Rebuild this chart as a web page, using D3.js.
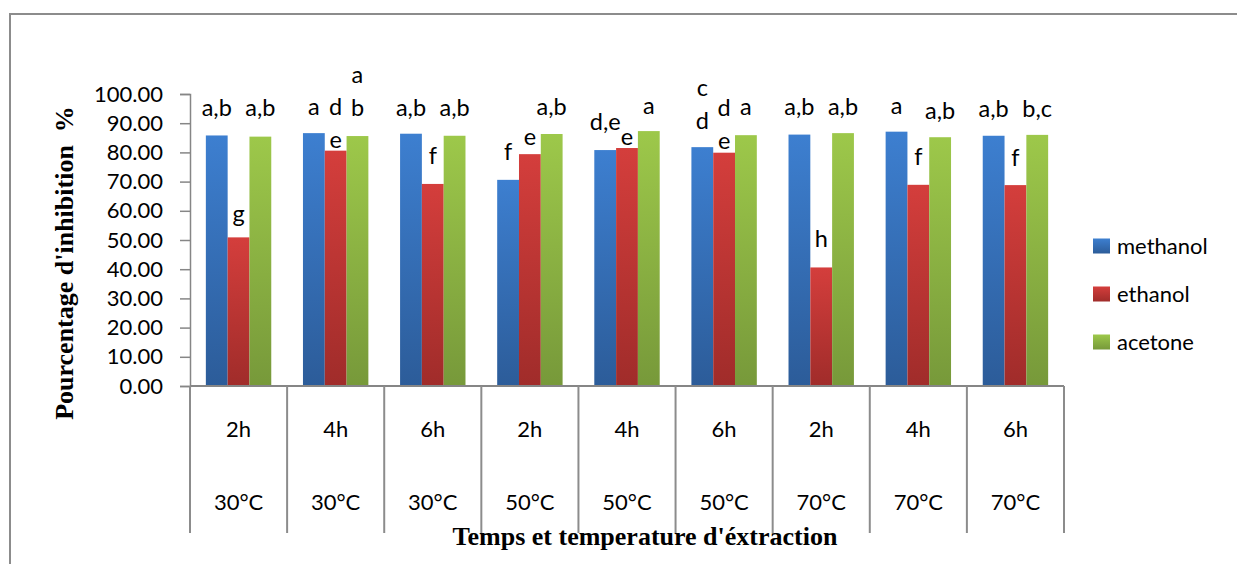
<!DOCTYPE html>
<html>
<head>
<meta charset="utf-8">
<script src="https://cdn.jsdelivr.net/npm/d3@7"></script>
<style>
  body { margin: 0; background: #fff; }
  svg { display: block; }
</style>
</head>
<body>
<div id="chart"></div>
<script>
const margin = { top: 94, right: 173, bottom: 178, left: 190 };
const width = 1237 - margin.left - margin.right;
const height = 564 - margin.top - margin.bottom;

// categories
const hours = ["2h", "4h", "6h", "2h", "4h", "6h", "2h", "4h", "6h"];
const temps = ["30°C", "30°C", "30°C", "50°C", "50°C", "50°C", "70°C", "70°C", "70°C"];
const series = ["methanol", "ethanol", "acetone"];
const yTicks = [0, 10, 20, 30, 40, 50, 60, 70, 80, 90, 100];

// values (% inhibition)
const methanol = [85.8, 86.6, 86.4, 70.6, 80.8, 81.8, 86.1, 87.1, 85.7];
const ethanol = [50.9, 80.6, 69.2, 79.4, 81.5, 79.9, 40.6, 68.9, 68.8];
const acetone = [85.4, 85.6, 85.7, 86.3, 87.3, 85.9, 86.6, 85.2, 86.0];

// significance letters and the level (in %) where the lowest line sits
const methanolLetters = ["a,b", "a", "a,b", "f", "d,e", "c\nd", "a,b", "a", "a,b"];
const methanolLetterAt = [95.0, 95.3, 95.0, 79.9, 90.2, 90.5, 95.3, 95.6, 94.6];
const ethanolLetters = ["g", "d\ne", "f", "e", "e", "d\ne", "h", "f", "f"];
const ethanolLetterAt = [58.9, 84.0, 78.5, 85.0, 85.0, 83.6, 50.2, 78.2, 77.8];
const acetoneLetters = ["a,b", "a\nb", "a,b", "a,b", "a", "a", "a,b", "a,b", "b,c"];
const acetoneLetterAt = [95.0, 95.0, 95.0, 95.3, 95.6, 95.3, 95.3, 93.9, 94.6];

const colors = {
    methanol: ["#3d7fd0", "#2c5c99"],
    ethanol: ["#d43e3c", "#a02c2a"],
    acetone: ["#9dc84a", "#77993a"]
};

const values = { methanol: methanol, ethanol: ethanol, acetone: acetone };
const letters = { methanol: methanolLetters, ethanol: ethanolLetters, acetone: acetoneLetters };
const letterAt = { methanol: methanolLetterAt, ethanol: ethanolLetterAt, acetone: acetoneLetterAt };

const groups = hours.map((h, i) => i);

const svg = d3.select("#chart")
    .append("svg")
    .attr("width", 1237)
    .attr("height", 564);

// outer chart-area frame (only top and left are visible in the crop)
svg.append("path")
    .attr("d", "M10,564 V14 H1237")
    .attr("fill", "none")
    .attr("stroke", "#8c8c8c")
    .attr("stroke-width", 2);

const defs = svg.append("defs");
series.forEach(s => {
    const g = defs.append("linearGradient")
        .attr("id", "grad-" + s)
        .attr("x1", 0).attr("y1", 0).attr("x2", 0).attr("y2", 1);
    g.append("stop").attr("offset", "0%").attr("stop-color", colors[s][0]);
    g.append("stop").attr("offset", "100%").attr("stop-color", colors[s][1]);
});

const chart = svg.append("g")
    .attr("transform", `translate(${margin.left},${margin.top})`);

const x0 = d3.scaleBand().domain(groups).range([0, width]).padding(0);
const x1 = d3.scaleBand().domain(series).range([0, x0.bandwidth()]).paddingInner(0).paddingOuter(0.727);
const y = d3.scaleLinear().domain([0, 100]).range([height, 0]);

// bars
const groupSel = chart.selectAll(".group")
    .data(groups)
    .enter().append("g")
    .attr("class", "group")
    .attr("transform", d => `translate(${x0(d)},0)`);

groupSel.selectAll("rect")
    .data(i => series.map(s => ({ s: s, v: values[s][i] })))
    .enter().append("rect")
    .attr("x", d => x1(d.s))
    .attr("y", d => y(d.v))
    .attr("width", x1.bandwidth())
    .attr("height", d => height - y(d.v))
    .attr("fill", d => `url(#grad-${d.s})`);

// letters above bars
const lineGap = 33;
groupSel.each(function (i) {
    const g = d3.select(this);
    series.forEach(s => {
        const lines = letters[s][i].split("\n");
        const cx = x1(s) + x1.bandwidth() / 2;
        const cy = y(letterAt[s][i]);
        lines.forEach((t, k) => {
            g.append("text")
                .attr("x", cx)
                .attr("y", cy - (lines.length - 1 - k) * lineGap)
                .attr("dy", "0.32em")
                .attr("text-anchor", "middle")
                .style("font-family", "Lato, 'Open Sans', sans-serif")
                .style("font-size", "23.5px")
                .style("fill", "#000")
                .text(t);
        });
    });
});

// y axis
const yAxis = chart.append("g")
    .call(d3.axisLeft(y).tickValues(yTicks).tickFormat(d3.format(".2f")).tickSize(10).tickPadding(17));
yAxis.select(".domain").attr("stroke", "#868686").attr("stroke-width", 1.5);
yAxis.selectAll(".tick line").attr("stroke", "#868686").attr("stroke-width", 1.5);
yAxis.selectAll(".tick text")
    .style("font-family", "Lato, 'Open Sans', sans-serif")
    .style("font-size", "22px")
    .style("fill", "#000");

// category axis with divider lines
const catAxis = chart.append("g").attr("transform", `translate(0,${height})`);
catAxis.append("line")
    .attr("x1", 0).attr("x2", width)
    .attr("stroke", "#868686").attr("stroke-width", 2);
const dividers = groups.concat([groups.length]);
catAxis.selectAll(".divider")
    .data(dividers)
    .enter().append("line")
    .attr("class", "divider")
    .attr("x1", d => d < groups.length ? x0(d) : width)
    .attr("x2", d => d < groups.length ? x0(d) : width)
    .attr("y1", 0).attr("y2", 147)
    .attr("stroke", "#8c8c8c").attr("stroke-width", 2);

catAxis.selectAll(".hour")
    .data(groups)
    .enter().append("text")
    .attr("x", d => x0(d) + x0.bandwidth() / 2)
    .attr("y", 43)
    .attr("dy", "0.35em")
    .attr("text-anchor", "middle")
    .style("font-family", "Lato, 'Open Sans', sans-serif")
    .style("font-size", "22px")
    .text(d => hours[d]);

catAxis.selectAll(".temp")
    .data(groups)
    .enter().append("text")
    .attr("x", d => x0(d) + x0.bandwidth() / 2)
    .attr("y", 116)
    .attr("dy", "0.35em")
    .attr("text-anchor", "middle")
    .style("font-family", "Lato, 'Open Sans', sans-serif")
    .style("font-size", "22px")
    .text(d => temps[d]);

// axis titles
svg.append("text")
    .attr("x", 645)
    .attr("y", 545)
    .attr("text-anchor", "middle")
    .style("font-family", "'Liberation Serif', 'Times New Roman', serif")
    .style("font-weight", "bold")
    .style("font-size", "26px")
    .text("Temps et temperature d'éxtraction");

svg.append("text")
    .attr("transform", "translate(73,263) rotate(-90)")
    .attr("text-anchor", "middle")
    .style("font-family", "'Liberation Serif', 'Times New Roman', serif")
    .style("font-weight", "bold")
    .style("font-size", "26px")
    .style("white-space", "pre")
    .text("Pourcentage d'inhibition  %");

// legend
const legend = svg.append("g").attr("transform", "translate(1093,0)");
const legendY = d3.scalePoint().domain(series).range([246, 342]);
series.forEach(s => {
    legend.append("rect")
        .attr("x", 0)
        .attr("y", legendY(s) - 7.5)
        .attr("width", 17)
        .attr("height", 15)
        .attr("fill", `url(#grad-${s})`);
    legend.append("text")
        .attr("x", 24)
        .attr("y", legendY(s))
        .attr("dy", "0.35em")
        .style("font-family", "Lato, 'Open Sans', sans-serif")
        .style("font-size", "22px")
        .text(s);
});
</script>
</body>
</html>
